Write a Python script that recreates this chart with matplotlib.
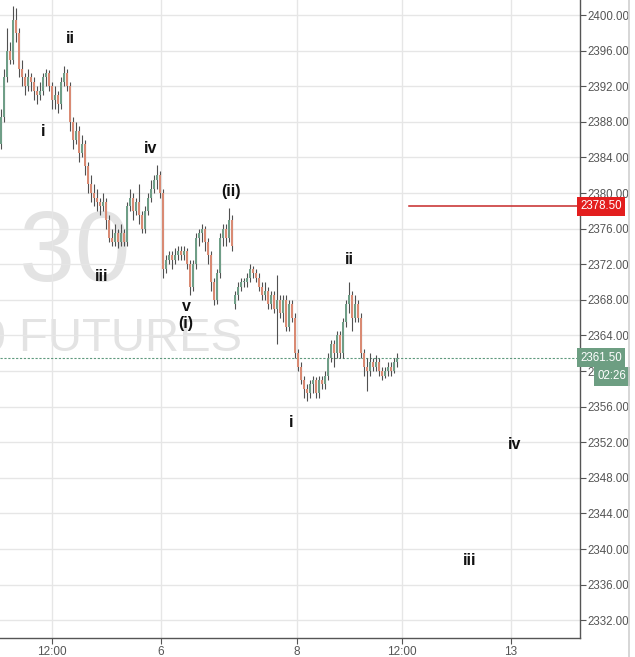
import matplotlib
matplotlib.use('Agg')
import matplotlib.pyplot as plt
import matplotlib.transforms as mtransforms
from matplotlib.lines import Line2D

# 30-min bars
opens = [2385.5, 2388.5, 2393.0, 2396.0, 2395.0, 2399.5, 2398.0, 2394.0, 2393.0, 2392.0,
         2393.0, 2392.5, 2391.5, 2391.0, 2391.5, 2393.0, 2393.5, 2392.0, 2390.5, 2391.0,
         2390.0, 2392.5, 2393.5, 2392.0, 2388.0, 2386.0, 2387.0, 2384.5, 2385.5, 2383.0,
         2381.0, 2380.0, 2379.5, 2379.0, 2378.5, 2379.0, 2377.0, 2375.0, 2374.5, 2375.5,
         2374.5, 2375.5, 2374.5, 2378.5, 2379.5, 2378.0, 2379.0, 2377.5, 2376.0, 2378.0,
         2379.5, 2380.5, 2381.5, 2382.0, 2380.0, 2371.5, 2372.5, 2373.0, 2372.5, 2373.0,
         2373.5, 2373.0, 2373.5, 2372.0, 2369.5, 2372.0, 2375.0, 2375.5, 2376.0, 2374.5,
         2373.0, 2370.0, 2368.0, 2371.0, 2375.0, 2376.0, 2375.0, 2377.0, 2367.5, 2368.5,
         2369.5, 2370.0, 2370.0, 2370.5, 2371.5, 2371.0, 2370.5, 2369.5, 2368.5, 2369.0,
         2367.5, 2368.5, 2367.0, 2368.0, 2366.5, 2368.0, 2365.0, 2367.5, 2366.0, 2362.0,
         2360.5, 2359.0, 2358.0, 2357.5, 2358.5, 2359.0, 2357.5, 2359.0, 2358.5, 2359.5,
         2361.5, 2363.0, 2362.0, 2364.0, 2362.0, 2365.5, 2367.5, 2368.5, 2366.0, 2367.5,
         2366.0, 2362.0, 2360.5, 2360.0, 2361.0, 2360.5, 2361.0, 2360.0, 2359.5, 2360.0,
         2360.5, 2360.0, 2361.0]
highs = [2389.5, 2394.0, 2398.5, 2397.0, 2401.0, 2400.8, 2398.5, 2395.0, 2393.5, 2394.0,
         2393.5, 2393.0, 2392.0, 2392.5, 2393.5, 2394.0, 2393.8, 2392.5, 2392.0, 2391.5,
         2393.0, 2394.3, 2394.0, 2392.5, 2388.5, 2388.0, 2387.5, 2386.5, 2386.0, 2383.5,
         2382.0, 2381.0, 2380.5, 2379.5, 2380.0, 2379.5, 2377.5, 2376.0, 2376.5, 2376.0,
         2376.5, 2376.0, 2379.0, 2380.5, 2380.0, 2379.5, 2381.0, 2378.0, 2378.5, 2380.0,
         2381.5, 2382.0, 2383.2, 2382.5, 2380.5, 2373.0, 2373.5, 2373.5, 2373.8, 2374.0,
         2374.0, 2374.0, 2373.8, 2372.5, 2372.5, 2375.5, 2376.0, 2376.5, 2376.3, 2375.0,
         2373.5, 2370.5, 2371.5, 2375.5, 2376.5, 2376.5, 2378.3, 2377.5, 2369.0, 2370.0,
         2370.5, 2370.5, 2371.0, 2372.0, 2371.8, 2371.5, 2371.0, 2370.0, 2370.0, 2369.5,
         2369.0, 2369.0, 2370.8, 2368.5, 2368.5, 2368.5, 2368.0, 2368.0, 2366.5, 2362.5,
         2361.0, 2359.5, 2358.5, 2359.0, 2359.5, 2359.3, 2359.5, 2359.5, 2360.0, 2362.0,
         2363.5, 2363.5, 2364.5, 2364.5, 2366.0, 2368.0, 2370.0, 2369.0, 2368.5, 2368.0,
         2366.5, 2362.5, 2361.5, 2362.0, 2361.5, 2361.8, 2361.5, 2360.5, 2360.5, 2361.0,
         2361.0, 2361.5, 2362.0]
lows = [2385.0, 2388.0, 2392.5, 2394.5, 2394.5, 2397.0, 2393.0, 2392.0, 2391.0, 2391.5,
        2391.5, 2390.5, 2390.0, 2390.5, 2391.0, 2392.0, 2391.5, 2389.5, 2389.5, 2389.0,
        2389.5, 2392.0, 2391.5, 2387.0, 2385.0, 2385.5, 2383.5, 2384.0, 2382.0, 2380.0,
        2379.0, 2378.5, 2378.0, 2377.5, 2378.0, 2376.0, 2374.5, 2374.0, 2374.0, 2373.8,
        2374.0, 2374.0, 2374.0, 2378.0, 2377.0, 2377.5, 2376.5, 2375.5, 2375.5, 2377.5,
        2379.0, 2380.0, 2380.5, 2379.5, 2370.5, 2371.0, 2372.0, 2371.5, 2372.0, 2372.5,
        2372.5, 2372.5, 2371.5, 2368.5, 2369.0, 2371.5, 2374.0, 2374.5, 2373.5, 2372.0,
        2369.0, 2367.4, 2367.5, 2370.5, 2374.0, 2374.0, 2374.5, 2373.5, 2367.0, 2368.0,
        2369.0, 2369.5, 2369.5, 2370.0, 2370.5, 2370.0, 2369.0, 2368.0, 2368.0, 2367.0,
        2367.0, 2366.5, 2363.0, 2366.0, 2365.5, 2364.5, 2364.5, 2365.5, 2361.5, 2360.0,
        2358.5, 2357.0, 2356.6, 2357.0, 2357.5, 2357.0, 2357.0, 2358.0, 2358.0, 2359.0,
        2361.0, 2360.5, 2361.5, 2361.5, 2361.5, 2365.0, 2366.5, 2364.5, 2365.5, 2365.5,
        2361.5, 2359.5, 2357.8, 2359.5, 2360.0, 2360.0, 2359.5, 2359.0, 2359.2, 2359.5,
        2359.5, 2359.8, 2360.5]
closes = [2388.5, 2393.0, 2396.0, 2395.0, 2399.5, 2398.0, 2394.0, 2393.0, 2392.0, 2393.0,
          2392.5, 2391.5, 2391.0, 2391.5, 2393.0, 2393.5, 2392.0, 2390.5, 2391.0, 2390.0,
          2392.5, 2393.5, 2392.0, 2388.0, 2386.0, 2387.0, 2384.5, 2385.5, 2383.0, 2381.0,
          2380.0, 2379.5, 2379.0, 2378.5, 2379.0, 2377.0, 2375.0, 2374.5, 2375.5, 2374.5,
          2375.5, 2374.5, 2378.5, 2379.5, 2378.0, 2379.0, 2377.5, 2376.0, 2378.0, 2379.5,
          2380.5, 2381.5, 2382.0, 2380.0, 2371.5, 2372.5, 2373.0, 2372.5, 2373.0, 2373.5,
          2373.0, 2373.5, 2372.0, 2369.5, 2372.0, 2375.0, 2375.5, 2376.0, 2374.5, 2373.0,
          2370.0, 2368.0, 2371.0, 2375.0, 2376.0, 2375.0, 2377.0, 2374.0, 2368.5, 2369.5,
          2370.0, 2370.0, 2370.5, 2371.5, 2371.0, 2370.5, 2369.5, 2368.5, 2369.0, 2367.5,
          2368.5, 2367.0, 2368.0, 2366.5, 2368.0, 2365.0, 2367.5, 2366.0, 2362.0, 2360.5,
          2359.0, 2358.0, 2357.5, 2358.5, 2359.0, 2357.5, 2359.0, 2358.5, 2359.5, 2361.5,
          2363.0, 2362.0, 2364.0, 2362.0, 2365.5, 2367.5, 2368.5, 2366.0, 2367.5, 2366.0,
          2362.0, 2360.5, 2360.0, 2361.0, 2360.5, 2361.0, 2360.0, 2359.5, 2360.0, 2360.5,
          2360.0, 2361.0, 2361.5]

# elliott wave labels (bar index, price)
wave_labels = ['ii', 'i', 'iv', 'iii', 'v', '(i)', '(ii)', 'ii', 'i', 'iv', 'iii']
wave_x = [23.0, 14.0, 50.0, 33.7, 61.7, 61.7, 76.7, 116.0, 96.7, 171.3, 156.3]
wave_y = [2397.4, 2386.9, 2385.0, 2370.6, 2367.2, 2365.4, 2380.2, 2372.5, 2354.2, 2351.7, 2338.7]

xtick_pos = [17.0, 53.3, 98.7, 133.7, 170.0]
xtick_labels = ['12:00', '6', '8', '12:00', '13']
yticks = list(range(2332, 2401, 4))

level_price = 2378.5
level_start = 136
last_price = 2361.5
countdown = '02:26'

up_col = '#6f9e87'
down_col = '#d98a73'
wick_col = '#505050'
axis_col = '#555555'

fig = plt.figure(figsize=(6.35, 6.57), dpi=100)
ax = fig.add_axes([0, 19/657, 580/635, 638/657])

# watermark
ax.text(43, 2373.0, 'ES1!, 30', fontsize=72, color='#e3e3e3', ha='right', va='center',
        family='Liberation Sans', zorder=0, clip_on=True)
ax.text(80.5, 2363.6, 'E-MINI S&P 500 FUTURES', fontsize=34, color='#e3e3e3', ha='right',
        va='center', family='Liberation Sans', zorder=0, clip_on=True)

idx = list(range(len(closes)))
cols = [up_col if c >= o else down_col for o, c in zip(opens, closes)]
ax.vlines(idx, lows, highs, color=wick_col, lw=0.8, zorder=3)
bottoms = [min(o, c) for o, c in zip(opens, closes)]
heights = [max(abs(c - o), 0.15) for o, c in zip(opens, closes)]
ax.bar(idx, heights, bottom=bottoms, width=0.55, color=cols, edgecolor='none', zorder=4)

# horizontal level and last price line
ax.plot([level_start, 200], [level_price, level_price], color='#c62828', lw=1.1, zorder=2)
ax.axhline(last_price, color='#5f9a7e', lw=0.8, ls=(0, (2, 1.5)), zorder=2)

for lab, x, y in zip(wave_labels, wave_x, wave_y):
    ax.text(x, y, lab, fontsize=11.5, fontweight='bold', ha='center', va='center',
            family='Liberation Sans', color='#111111', zorder=5)

ax.set_xlim(-0.33, 193.0)
ax.set_ylim(2330.0, 2401.7)
ax.set_xticks(xtick_pos)
ax.set_xticklabels(xtick_labels)
ax.set_yticks(yticks)
ax.set_yticklabels([f'{v:.2f}' for v in yticks])
ax.yaxis.tick_right()
ax.grid(True, color='#e6e6e6', lw=1)
ax.set_axisbelow(True)
for s in ['left', 'top']:
    ax.spines[s].set_visible(False)
for s in ['right', 'bottom']:
    ax.spines[s].set_color(axis_col)
    ax.spines[s].set_linewidth(1)
ax.tick_params(axis='y', direction='out', length=4, color=axis_col, labelcolor=axis_col,
               labelsize=8.3, pad=1.5)
ax.tick_params(axis='x', direction='out', length=4, color=axis_col, labelcolor=axis_col,
               labelsize=8.5, pad=2)
for t in ax.get_xticklabels() + ax.get_yticklabels():
    t.set_family('Liberation Sans')

# price tags on the scale
tr = mtransforms.blended_transform_factory(ax.transAxes, ax.transData)
ax.text(1.0, level_price, f'{level_price:.2f}', transform=tr, ha='left', va='center',
        fontsize=8.3, color='white', family='Liberation Sans', clip_on=False, zorder=6,
        bbox=dict(boxstyle='square,pad=0.3', fc='#e31e1e', ec='none'))
ax.text(1.0, last_price, f'{last_price:.2f}', transform=tr, ha='left', va='center',
        fontsize=8.3, color='white', family='Liberation Sans', clip_on=False, zorder=6,
        bbox=dict(boxstyle='square,pad=0.3', fc='#6d9e82', ec='none'))
ax.text(1.03, 2359.4, countdown, transform=tr, ha='left', va='center',
        fontsize=8.3, color='white', family='Liberation Sans', clip_on=False, zorder=6,
        bbox=dict(boxstyle='square,pad=0.3', fc='#6d9e82', ec='none'))

# outer frame line on the right
fig.add_artist(Line2D([629/635, 629/635], [0, 1], color='#d0d0d0', lw=1.2))

fig.savefig('out.png', dpi=100)
